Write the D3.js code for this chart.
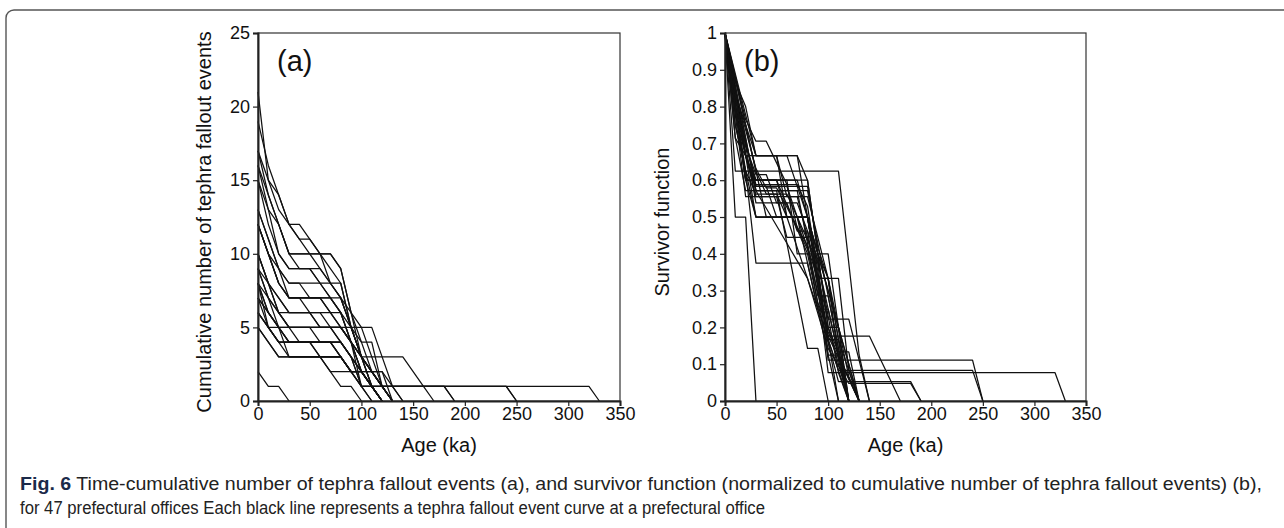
<!DOCTYPE html>
<html>
<head>
<meta charset="utf-8">
<script src="https://cdn.jsdelivr.net/npm/d3@7"></script>
<style>
  body { margin: 0; background: #fff; }
  svg { display: block; }
</style>
</head>
<body>
<div id="chart"></div>
<script>
// Ages are sampled every 10 ka starting at 0 ka
const ageStep = 10;
const xTicks = [0, 50, 100, 150, 200, 250, 300, 350];
const yTicksA = [0, 5, 10, 15, 20, 25];
const yTicksB = [0, 0.1, 0.2, 0.3, 0.4, 0.5, 0.6, 0.7, 0.8, 0.9, 1];

// Cumulative number of tephra fallout events at each office (0, 10, 20 ... ka)
const officeCounts = [
  [21,15,14,12,11,10,9,8,7,5,3,2,1,1,1,1,1,1,1,0],
  [19,16,14,12,11,11,10,9,8,5,3,1,1,1,1,1,1,1,1,0],
  [17,14,12,10,10,10,10,10,9,6,3,3,3,3,3,2,1,0],
  [17,15,13,12,12,11,10,8,7,5,3,2,1,0],
  [16,13,10,9,9,9,9,8,8,5,3,2,1,0],
  [16,14,12,10,9,9,8,8,7,6,4,2,1,0],
  [15,13,12,10,10,10,10,10,9,6,5,3,1,0],
  [15,12,10,9,9,9,8,7,6,4,3,2,2,0],
  [13,11,9,8,8,7,7,6,6,4,1,1,1,1,1,1,1,1,1,1,1,1,1,1,1,1,1,1,1,1,1,1,1,0],
  [13,11,9,7,7,7,7,7,6,5,3,1,0],
  [12,10,9,8,8,8,8,7,7,5,4,4,1,0],
  [12,10,8,7,7,7,7,6,5,4,2,1,0],
  [12,10,8,7,7,6,6,5,4,3,2,1,1,1,1,1,1,1,1,1,1,1,1,1,1,0],
  [12,10,8,7,7,7,7,7,6,4,2,2,1,0],
  [10,8,7,6,6,6,5,5,5,4,3,2,1,0],
  [10,8,6,5,5,5,5,5,5,4,3,2,1,0],
  [10,8,6,6,6,6,6,6,5,4,2,1,0],
  [9,8,7,6,6,6,5,5,4,3,2,2,2,1,0],
  [9,7,6,5,5,5,5,5,5,4,3,1,1,1,1,1,1,1,1,1,1,1,1,1,1,0],
  [9,7,5,5,5,5,4,4,4,3,1,1,0],
  [8,5,5,3,3,3,3,3,3,2,2,1,0],
  [8,7,6,5,5,5,5,5,5,5,5,5,3,1,0],
  [8,6,5,5,4,4,4,4,3,2,1,1,0],
  [8,6,5,4,4,4,4,4,4,3,1,0],
  [7,6,5,4,4,4,4,4,3,2,2,1,0],
  [7,6,5,4,4,4,3,2,1,1,0],
  [7,5,4,4,4,4,4,4,4,3,2,1,0],
  [6,5,4,4,4,4,3,3,3,2,1,0],
  [6,5,4,3,3,3,3,3,3,2,2,1,0],
  [6,5,4,4,4,4,4,4,3,2,2,1,0],
  [5,4,3,3,3,3,3,3,3,2,2,1,0],
  [5,4,3,3,3,3,3,2,2,2,1,1,0],
  [2,1,1,0]
];

const W = 1284, H = 528;
const svg = d3.select("#chart").append("svg")
  .attr("width", W)
  .attr("height", H);

// outer figure frame (rounded top-left corner, open to the right/bottom)
const frame = d3.path();
frame.moveTo(6, H + 2);
frame.lineTo(6, 18);
frame.arcTo(6, 10, 14, 10, 8);
frame.lineTo(W + 2, 10);
svg.append("path")
  .attr("d", frame.toString())
  .attr("fill", "none")
  .attr("stroke", "#555")
  .attr("stroke-width", 1.4);

const plotTop = 33, plotBottom = 401;
const tickFont = "Liberation Sans, Arial, sans-serif";

function drawPanel(left, right, yScale, yTicks, yFormat, series, panelLabel, yLabel, yLabelX) {
  const xScale = d3.scaleLinear().domain([0, 350]).range([left, right]);

  // plot box
  svg.append("rect")
    .attr("x", left).attr("y", plotTop)
    .attr("width", right - left).attr("height", plotBottom - plotTop)
    .attr("fill", "none")
    .attr("stroke", "#333")
    .attr("stroke-width", 1.2);

  const line = d3.line()
    .x((d, i) => xScale(i * ageStep))
    .y(d => yScale(d));

  svg.append("g").selectAll("path")
    .data(series)
    .enter().append("path")
    .attr("d", line)
    .attr("fill", "none")
    .attr("stroke", "#111")
    .attr("stroke-width", 1.25)
    .attr("stroke-linejoin", "round");

  const yAxis = d3.axisLeft(yScale).tickValues(yTicks).tickFormat(yFormat)
    .tickSize(5).tickPadding(3);
  const gy = svg.append("g").attr("transform", `translate(${left},0)`).call(yAxis);

  const xAxis = d3.axisBottom(xScale).tickValues(xTicks).tickSize(5).tickPadding(1);
  const gx = svg.append("g").attr("transform", `translate(0,${plotBottom})`).call(xAxis);

  [gx, gy].forEach(g => {
    g.selectAll("text")
      .style("font-family", tickFont)
      .style("font-size", "18px")
      .attr("fill", "#111");
    g.selectAll("line").attr("stroke", "#222").attr("stroke-width", 1.2);
    g.select(".domain").attr("stroke", "#222").attr("stroke-width", 2);
  });

  // panel letter
  svg.append("text")
    .text(panelLabel)
    .attr("x", left + 19)
    .attr("y", 71)
    .style("font-family", tickFont)
    .style("font-size", "29px")
    .attr("fill", "#111");

  // axis titles
  svg.append("text")
    .text("Age (ka)")
    .attr("x", (left + right) / 2)
    .attr("y", 452)
    .attr("text-anchor", "middle")
    .style("font-family", tickFont)
    .style("font-size", "20px")
    .attr("fill", "#111");

  svg.append("text")
    .text(yLabel)
    .attr("transform", `translate(${yLabelX},${(plotTop + plotBottom) / 2 + 5}) rotate(-90)`)
    .attr("text-anchor", "middle")
    .style("font-family", tickFont)
    .style("font-size", "20px")
    .attr("fill", "#111");
}

// (a) cumulative counts
const yA = d3.scaleLinear().domain([0, 25]).range([plotBottom, plotTop]);
drawPanel(258, 620, yA, yTicksA, d3.format("d"), officeCounts,
  "(a)", "Cumulative number of tephra fallout events", 211);

// (b) survivor function = counts normalised by the count at 0 ka
const survivor = officeCounts.map(c => c.map(v => v / c[0]));
const yB = d3.scaleLinear().domain([0, 1]).range([plotBottom, plotTop]);
drawPanel(725, 1086, yB, yTicksB, d => d3.format("")(+d.toFixed(1)), survivor,
  "(b)", "Survivor function", 669);

// caption
const capFont = "Liberation Sans Narrow, Arial Narrow, Liberation Sans, sans-serif";
const cap1 = svg.append("text")
  .attr("x", 20).attr("y", 490)
  .attr("textLength", 1242)
  .attr("lengthAdjust", "spacingAndGlyphs")
  .style("font-family", capFont)
  .style("font-size", "17.5px")
  .attr("fill", "#222");
cap1.append("tspan").text("Fig. 6").style("font-weight", "bold").attr("fill", "#1b2a4a");
cap1.append("tspan").text("  Time-cumulative number of tephra fallout events (a), and survivor function (normalized to cumulative number of tephra fallout events) (b),");

svg.append("text")
  .attr("x", 20).attr("y", 514)
  .attr("textLength", 745)
  .attr("lengthAdjust", "spacingAndGlyphs")
  .style("font-family", capFont)
  .style("font-size", "17.5px")
  .attr("fill", "#222")
  .text("for 47 prefectural offices Each black line represents a tephra fallout event curve at a prefectural office");
</script>
</body>
</html>
